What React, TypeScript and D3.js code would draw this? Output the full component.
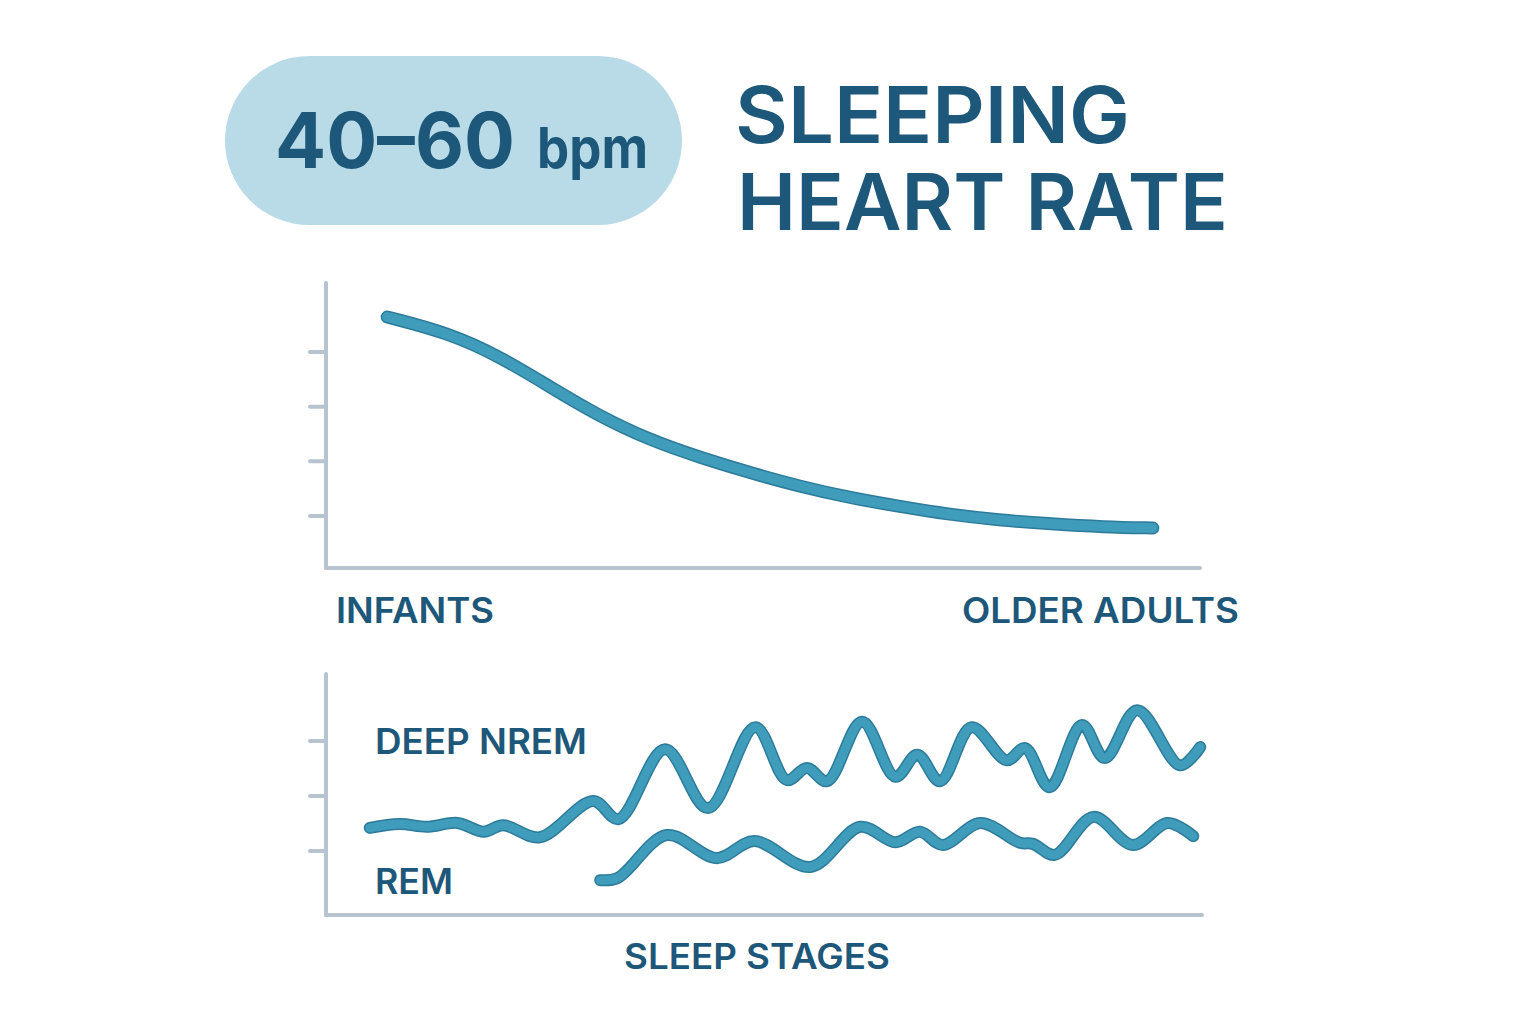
import React from "react";
import * as d3 from "d3";

// top chart: resting heart rate across age (x = position along the age axis, 0-100)
const ageX = [7, 14, 20, 26, 31, 37, 43, 49, 54, 60, 66, 71, 77, 83, 89, 94.6];
const ageBpm = [112.8, 107.0, 98.2, 86.5, 77.0, 67.8, 61.2, 55.4, 51.0, 46.6, 43.3, 40.7, 38.5, 37.1, 36.0, 35.6];
const ageTicks = [40, 60, 80, 100];

// bottom chart: sleep stages (x = position in the night, 0-100)
const deepX = [5.0, 8.4, 11.5, 15.0, 18.0, 20.2, 24.4, 30.5, 33.4, 38.7, 43.6, 49.0, 52.6, 54.9, 57.2, 61.2, 65.0, 67.5, 70.1, 73.7, 77.7, 79.8, 82.6, 86.3, 88.9, 92.6, 97.5, 99.8];
const deepY = [14.2, 14.9, 14.4, 15.1, 13.5, 14.7, 12.5, 19.1, 15.8, 28.5, 17.8, 32.5, 22.9, 25.1, 22.7, 33.5, 23.5, 27.5, 22.7, 32.5, 26.5, 28.7, 21.6, 32.9, 26.9, 35.6, 25.6, 28.9];
const remX = [31.3, 33.3, 38.9, 44.6, 48.9, 55.3, 61.0, 65.0, 67.8, 70.4, 74.7, 79.2, 80.7, 83.2, 87.6, 92.1, 96.1, 99.0];
const remY = [4.7, 5.1, 12.9, 8.7, 11.8, 7.1, 14.4, 11.6, 13.5, 11.1, 15.1, 11.5, 11.3, 9.3, 16.2, 11.1, 15.1, 12.7];
const stageTicks = [10, 20, 30];

const TEXT = "#1d5779";
const AXIS = "#b7c3ce";
const LINE_EDGE = "#2c7b9a";
const LINE = "#3f9cba";
const FONT = "Inter, 'Open Sans', sans-serif";

function Curve({ d, w = 12 }: { d: string; w?: number }) {
  return (
    <g fill="none" strokeLinecap="round" strokeLinejoin="round">
      <path d={d} stroke={LINE_EDGE} strokeWidth={w} />
      <path d={d} stroke={LINE} strokeWidth={w - 3} />
    </g>
  );
}

export default function App() {
  const W = 1536;
  const H = 1024;

  // top chart scales
  const x1 = d3.scaleLinear().domain([0, 100]).range([326, 1200]);
  const y1 = d3.scaleLinear().domain([20, 120]).range([570.7, 297.3]);
  const ageLine = d3
    .line<number>()
    .x((_, i) => x1(ageX[i]))
    .y((v) => y1(v))
    .curve(d3.curveBasis);

  // bottom chart scales
  const x2 = d3.scaleLinear().domain([0, 100]).range([326, 1202]);
  const y2 = d3.scaleLinear().domain([0, 40]).range([906, 686]);
  const deepLine = d3
    .line<number>()
    .x((_, i) => x2(deepX[i]))
    .y((v) => y2(v))
    .curve(d3.curveCatmullRom.alpha(0.5));
  const remLine = d3
    .line<number>()
    .x((_, i) => x2(remX[i]))
    .y((v) => y2(v))
    .curve(d3.curveCatmullRom.alpha(0.5));

  return (
    <svg
      width={W}
      height={H}
      style={{ position: "absolute", left: 0, top: 0, background: "#fff" }}
      fontFamily={FONT}
    >
      <rect width={W} height={H} fill="#fff" />

      {/* header */}
      <rect x={225} y={56} width={457} height={169} rx={84.5} fill="#b9dbe8" />
      <text x={275} y={168} fill={TEXT} fontWeight={700} fontSize={77} textLength={240} lengthAdjust="spacingAndGlyphs">
        40–60
      </text>
      <text x={537} y={168} fill={TEXT} fontWeight={700} fontSize={56} textLength={111} lengthAdjust="spacingAndGlyphs">
        bpm
      </text>
      <text x={735} y={143} fill={TEXT} fontWeight={600} fontSize={78} textLength={395} lengthAdjust="spacingAndGlyphs">
        SLEEPING
      </text>
      <text x={737} y={230} fill={TEXT} fontWeight={600} fontSize={78} textLength={491} lengthAdjust="spacingAndGlyphs">
        HEART RATE
      </text>

      {/* top chart axes */}
      <g stroke={AXIS} strokeLinecap="round">
        <line x1={326} y1={283} x2={326} y2={568} strokeWidth={4} />
        <line x1={326} y1={568} x2={1200} y2={568} strokeWidth={4} />
        {ageTicks.map((t) => (
          <line key={t} x1={310} x2={326} y1={y1(t)} y2={y1(t)} strokeWidth={4} />
        ))}
      </g>
      <Curve d={ageLine(ageBpm) || ""} w={13} />
      <text x={336} y={623} fill={TEXT} fontWeight={600} fontSize={35} textLength={158} lengthAdjust="spacingAndGlyphs">
        INFANTS
      </text>
      <text x={962} y={623} fill={TEXT} fontWeight={600} fontSize={35} textLength={277} lengthAdjust="spacingAndGlyphs">
        OLDER ADULTS
      </text>

      {/* bottom chart axes */}
      <g stroke={AXIS} strokeLinecap="round">
        <line x1={326} y1={674} x2={326} y2={915} strokeWidth={4} />
        <line x1={326} y1={915} x2={1202} y2={915} strokeWidth={4} />
        {stageTicks.map((t) => (
          <line key={t} x1={310} x2={326} y1={y2(t)} y2={y2(t)} strokeWidth={4} />
        ))}
      </g>
      <Curve d={deepLine(deepY) || ""} />
      <Curve d={remLine(remY) || ""} />
      <text x={375} y={754} fill={TEXT} fontWeight={600} fontSize={35} textLength={212} lengthAdjust="spacingAndGlyphs">
        DEEP NREM
      </text>
      <text x={375} y={894} fill={TEXT} fontWeight={600} fontSize={35} textLength={78} lengthAdjust="spacingAndGlyphs">
        REM
      </text>
      <text x={624} y={969} fill={TEXT} fontWeight={600} fontSize={35} textLength={266} lengthAdjust="spacingAndGlyphs">
        SLEEP STAGES
      </text>
    </svg>
  );
}
